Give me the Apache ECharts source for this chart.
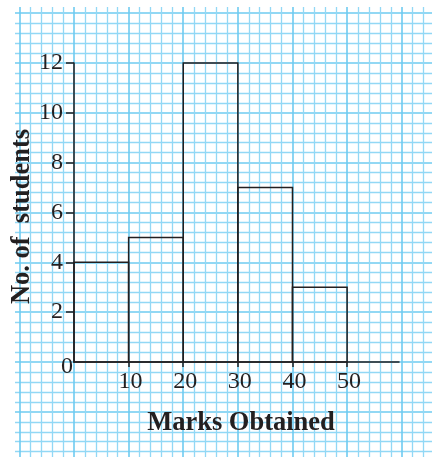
<!DOCTYPE html>
<html>
<head>
<meta charset="utf-8">
<title>Marks Obtained histogram</title>
<script src="https://cdn.jsdelivr.net/npm/echarts@6/dist/echarts.min.js"></script>
<style>
  html, body { margin: 0; padding: 0; background: #ffffff; }
  #chart { width: 432px; height: 457px; }
</style>
</head>
<body>
<div id="chart"></div>
<script>
// Class intervals (marks) and the number of students in each
const classStarts = [0, 10, 20, 30, 40];
const classEnds = [10, 20, 30, 40, 50];
const students = [4, 5, 12, 7, 3];

// Tick labels shown on each axis
const xTickLabels = [10, 20, 30, 40, 50];
const yTickLabels = [0, 2, 4, 6, 8, 10, 12];

// Plot geometry (pixels)
const W = 432, H = 457;
const originX = 74, originY = 362;
const axisEndX = 399, axisTopY = 63;
const xMax = 59.5, yMax = 12;
const pxPerMark = (axisEndX - originX) / xMax;
const pxPerStudent = (originY - axisTopY) / yMax;

const serif = 'Liberation Serif';
const ink = '#231f20';
const paperMajor = '#6ecbf0';
const paperMinor = '#92d8f5';

const histData = classStarts.map((s, i) => [s, classEnds[i], students[i]]);

// Graph-paper ranges (marks horizontally, students vertically)
const paperXMin = -10, paperXMax = 70;
const paperYMin = -4, paperYMax = 14;

const chart = echarts.init(document.getElementById('chart'), null, { renderer: 'canvas' });

chart.setOption({
  backgroundColor: '#ffffff',
  animation: false,
  grid: [
    { left: originX, right: W - axisEndX, top: axisTopY, bottom: H - originY, outerBoundsMode: 'none', containLabel: false },
    { // vertical paper lines
      left: originX + paperXMin * pxPerMark,
      right: W - (originX + paperXMax * pxPerMark),
      top: 7, bottom: 0, outerBoundsMode: 'none', containLabel: false
    },
    { // horizontal paper lines
      left: 15, right: 0,
      top: originY - paperYMax * pxPerStudent,
      bottom: H - (originY - paperYMin * pxPerStudent),
      outerBoundsMode: 'none', containLabel: false
    }
  ],
  xAxis: [
    {
      gridIndex: 0, type: 'value', min: 0, max: xMax, interval: 10, z: 5,
      axisLine: { show: true, lineStyle: { color: ink, width: 1.5 } },
      axisTick: { show: true, length: 5, customValues: xTickLabels, lineStyle: { color: ink, width: 1.5 } },
      splitLine: { show: false },
      axisLabel: {
        margin: 8, color: ink, fontFamily: serif, fontSize: 24,
        customValues: xTickLabels,
        formatter: v => '{t|' + v + '}',
        rich: { t: { fontFamily: serif, fontSize: 24, color: ink, padding: [0, 0, 0, 4] } }
      },
      name: 'Marks Obtained', nameLocation: 'middle', nameGap: 48, nameMoveOverlap: false,
      nameTextStyle: { fontFamily: serif, fontWeight: 'bold', fontSize: 26.5, color: ink, padding: [0, 0, 0, 9] }
    },
    {
      gridIndex: 1, type: 'value', min: paperXMin, max: paperXMax, interval: 10, z: 0,
      axisLine: { show: false }, axisTick: { show: false }, axisLabel: { show: false },
      minorTick: { show: false, splitNumber: 5 },
      splitLine: { show: true, lineStyle: { color: paperMajor, width: 1.6 } },
      minorSplitLine: { show: true, lineStyle: { color: paperMinor, width: 1.3 } }
    },
    {
      gridIndex: 2, type: 'value', min: 0, max: 1, show: false
    }
  ],
  yAxis: [
    {
      gridIndex: 0, type: 'value', min: 0, max: yMax, interval: 2, z: 5,
      axisLine: { show: true, lineStyle: { color: ink, width: 1.5 } },
      axisTick: { show: true, length: 8, customValues: yTickLabels.filter(v => v > 0), lineStyle: { color: ink, width: 1.5 } },
      splitLine: { show: false },
      axisLabel: {
        margin: 11, color: ink, fontFamily: serif, fontSize: 24,
        customValues: yTickLabels,
        alignMinLabel: 'center',
        formatter: v => v === 0 ? '{o|' + v + '}' : String(v),
        rich: {
          o: { fontFamily: serif, fontSize: 24, color: ink, padding: [10, 0, 0, 8] }
        }
      },
      name: 'No. of  students', nameLocation: 'middle', nameGap: 38, nameRotate: 90, nameMoveOverlap: false,
      nameTextStyle: { fontFamily: serif, fontWeight: 'bold', fontSize: 26.5, color: ink, padding: [0, 8, 0, 0] }
    },
    {
      gridIndex: 1, type: 'value', min: 0, max: 1, show: false
    },
    {
      gridIndex: 2, type: 'value', min: paperYMin, max: paperYMax, interval: 2, z: 0,
      axisLine: { show: false }, axisTick: { show: false }, axisLabel: { show: false },
      minorTick: { show: false, splitNumber: 5 },
      splitLine: { show: true, lineStyle: { color: paperMajor, width: 1.6 } },
      minorSplitLine: { show: true, lineStyle: { color: paperMinor, width: 1.3 } }
    }
  ],
  series: [
    {
      type: 'custom',
      name: 'Students',
      xAxisIndex: 0, yAxisIndex: 0,
      z: 4,
      clip: false,
      encode: { x: [0, 1], y: 2 },
      data: histData,
      renderItem: (params, api) => {
        const top = api.coord([api.value(0), api.value(2)]);
        const base = api.coord([api.value(1), 0]);
        return {
          type: 'rect',
          shape: { x: top[0], y: top[1], width: base[0] - top[0], height: base[1] - top[1] },
          style: { fill: 'none', stroke: ink, lineWidth: 1.5 }
        };
      }
    }
  ]
});
</script>
</body>
</html>
